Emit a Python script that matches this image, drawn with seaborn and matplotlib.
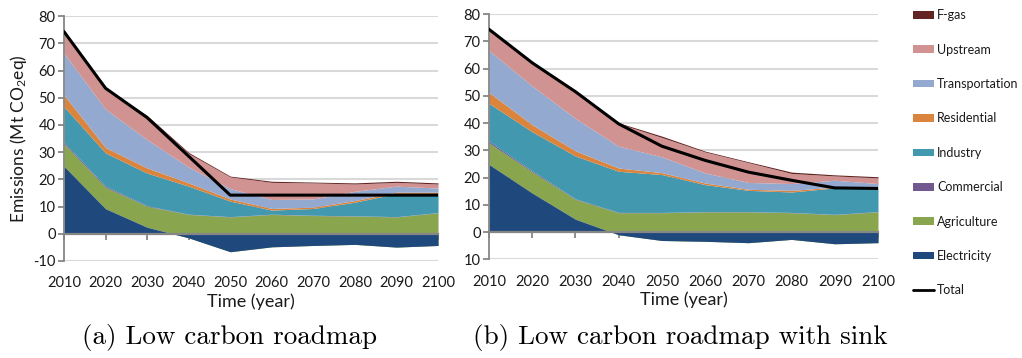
import numpy as np
import matplotlib
matplotlib.use("Agg")
import matplotlib.pyplot as plt
import seaborn as sns
from matplotlib.patches import Patch
from matplotlib.lines import Line2D

# 年份
years = [2010, 2020, 2030, 2040, 2050, 2060, 2070, 2080, 2090, 2100]

# (a) Low carbon roadmap
a_electricity = [24.8, 9.2, 2.4, -1.5, -6.6, -4.8, -4.3, -3.9, -4.9, -4.3]
a_agriculture = [8.3, 7.9, 7.7, 7.1, 6.2, 7.1, 6.7, 6.5, 6.2, 7.7]
a_commercial = [0.5, 0.4, 0.2, 0.1, 0.1, 0.1, 0.1, 0.1, 0.1, 0.1]
a_industry = [13.1, 12.2, 12.0, 10.3, 5.7, 1.5, 2.5, 5.0, 8.5, 7.0]
a_residential = [4.3, 2.0, 1.9, 1.2, 0.8, 0.6, 0.5, 0.6, 0.5, 0.5]
a_transportation = [15.3, 14.1, 10.4, 5.8, 3.8, 3.3, 3.0, 3.4, 2.2, 1.5]
a_upstream = [7.3, 7.5, 8.5, 5.0, 4.3, 6.3, 5.9, 2.7, 1.4, 1.5]
a_fgas = [0.6, 0.4, 0.4, 0.4, 0.3, 0.4, 0.3, 0.4, 0.4, 0.4]
a_total = [74.3, 53.5, 42.7, 28.5, 14.2, 14.2, 14.2, 14.2, 14.2, 14.2]

# (b) Low carbon roadmap with sink
b_electricity = [24.8, 14.3, 4.7, -1.0, -3.1, -3.4, -3.9, -2.7, -4.3, -3.9]
b_agriculture = [7.9, 7.8, 7.3, 7.1, 7.1, 7.4, 7.4, 7.1, 6.4, 7.4]
b_commercial = [0.6, 0.4, 0.2, 0.1, 0.1, 0.1, 0.1, 0.1, 0.1, 0.1]
b_industry = [13.9, 14.3, 15.7, 15.1, 13.9, 9.9, 7.8, 7.5, 9.7, 8.5]
b_residential = [4.0, 2.6, 1.9, 1.2, 0.7, 0.6, 0.4, 0.6, 0.3, 0.2]
b_transportation = [15.4, 14.2, 11.9, 8.0, 5.8, 3.7, 2.5, 2.5, 2.5, 1.6]
b_upstream = [7.3, 8.3, 10.1, 8.3, 7.1, 7.7, 7.3, 3.7, 1.6, 2.1]
b_fgas = [0.5, 0.3, 0.3, 0.3, 0.5, 0.3, 0.3, 0.5, 0.4, 0.4]
b_total = [74.4, 62.1, 51.5, 39.7, 31.5, 26.3, 22.0, 19.0, 16.2, 16.0]

yticks = [-10, 0, 10, 20, 30, 40, 50, 60, 70, 80]
a_yticklabels = ['-10', '0', '10', '20', '30', '40', '50', '60', '70', '80']
b_yticklabels = ['10', '0', '10', '20', '30', '40', '50', '60', '70', '80']

sectors = ['Electricity', 'Agriculture', 'Commercial', 'Industry',
           'Residential', 'Transportation', 'Upstream', 'F-gas']
colors = {'Electricity': '#1F497D', 'Agriculture': '#89A54E',
          'Commercial': '#71588F', 'Industry': '#4198AF',
          'Residential': '#DB843D', 'Transportation': '#93A9CF',
          'Upstream': '#D19392', 'F-gas': '#632523'}

sns.set_theme(style="white")
FONT = ['Lato', 'DejaVu Sans']
plt.rcParams['font.family'] = FONT
plt.rcParams['mathtext.default'] = 'regular'

GRAY = '#868686'
TXT = '#1a1a1a'


def draw_panel(ax, layers, total, ylabels, ylabel=None):
    x = np.array(years)
    elec = np.array(layers[0], dtype=float)
    prev = elec.copy()
    top = np.clip(elec, 0, None)
    # 正值部門從 max(電力, 0) 往上堆疊
    for name, vals in zip(sectors[1:], layers[1:]):
        new_top = top + np.array(vals)
        ax.fill_between(x, prev, new_top, color=colors[name], lw=0, zorder=1)
        prev = new_top
        top = new_top
    ax.fill_between(x, 0, elec, color=colors['Electricity'], lw=0, zorder=1.5)
    sns.lineplot(x=years, y=total, color='black', lw=2.2, ax=ax, zorder=3)

    ax.set_xlim(2010, 2100)
    ax.set_ylim(-10, 80)
    ax.set_yticks(yticks)
    ax.set_yticklabels(ylabels)
    ax.yaxis.grid(True, color='#d9d9d9', lw=1.5)
    ax.xaxis.grid(False)
    ax.set_axisbelow(True)
    for s in ['top', 'right']:
        ax.spines[s].set_visible(False)
    ax.spines['left'].set_color(GRAY)
    ax.spines['left'].set_linewidth(1.3)
    ax.spines['bottom'].set_position(('data', 0))
    ax.spines['bottom'].set_color(GRAY)
    ax.spines['bottom'].set_linewidth(1.6)
    ax.spines['bottom'].set_zorder(2.5)
    ax.set_xticks(years)
    ax.tick_params(axis='x', direction='out', length=4, width=1.3, color=GRAY,
                   labelbottom=False, bottom=True)
    ax.tick_params(axis='y', direction='out', length=4, width=1.3, color=GRAY,
                   labelsize=10.5, labelcolor=TXT, pad=2, left=True)

    sec = ax.secondary_xaxis('bottom')
    sec.set_xticks(years)
    sec.tick_params(length=0, labelsize=10.5, labelcolor=TXT, pad=11)
    sec.spines['bottom'].set_visible(False)
    sec.set_xlabel('Time (year)', fontsize=13, color=TXT, labelpad=2)
    if ylabel:
        ax.set_ylabel(ylabel, fontsize=12.5, color=TXT, labelpad=3)


fig = plt.figure(figsize=(10.22, 3.58), dpi=100)
ax_a = fig.add_axes([0.0626, 0.271, 0.366, 0.684])
ax_b = fig.add_axes([0.4785, 0.2757, 0.3806, 0.685])

draw_panel(ax_a, [a_electricity, a_agriculture, a_commercial, a_industry,
                  a_residential, a_transportation, a_upstream, a_fgas],
           a_total, a_yticklabels, ylabel='Emissions (Mt CO$_2$eq)')
draw_panel(ax_b, [b_electricity, b_agriculture, b_commercial, b_industry,
                  b_residential, b_transportation, b_upstream, b_fgas],
           b_total, b_yticklabels)

# 圖例
handles = [Patch(facecolor=colors[s], edgecolor='none') for s in sectors[::-1]]
handles.append(Line2D([0], [0], color='black', lw=2))
labels = sectors[::-1] + ['Total']
fig.legend(handles, labels, loc='upper left', bbox_to_anchor=(0.8933, 0.974),
           bbox_transform=fig.transFigure, frameon=False, fontsize=9,
           labelspacing=1.79, handlelength=1.68, handleheight=0.56,
           handletextpad=0.25, borderpad=0, borderaxespad=0, labelcolor=TXT)

# 子圖標題
fig.text(0.225, 0.058, '(a) Low carbon roadmap', fontsize=19.5, family='cmr10',
         ha='center', va='center', color='black')
fig.text(0.666, 0.058, '(b) Low carbon roadmap with sink', fontsize=19.5,
         family='cmr10', ha='center', va='center', color='black')

fig.savefig('out.png', dpi=100)
